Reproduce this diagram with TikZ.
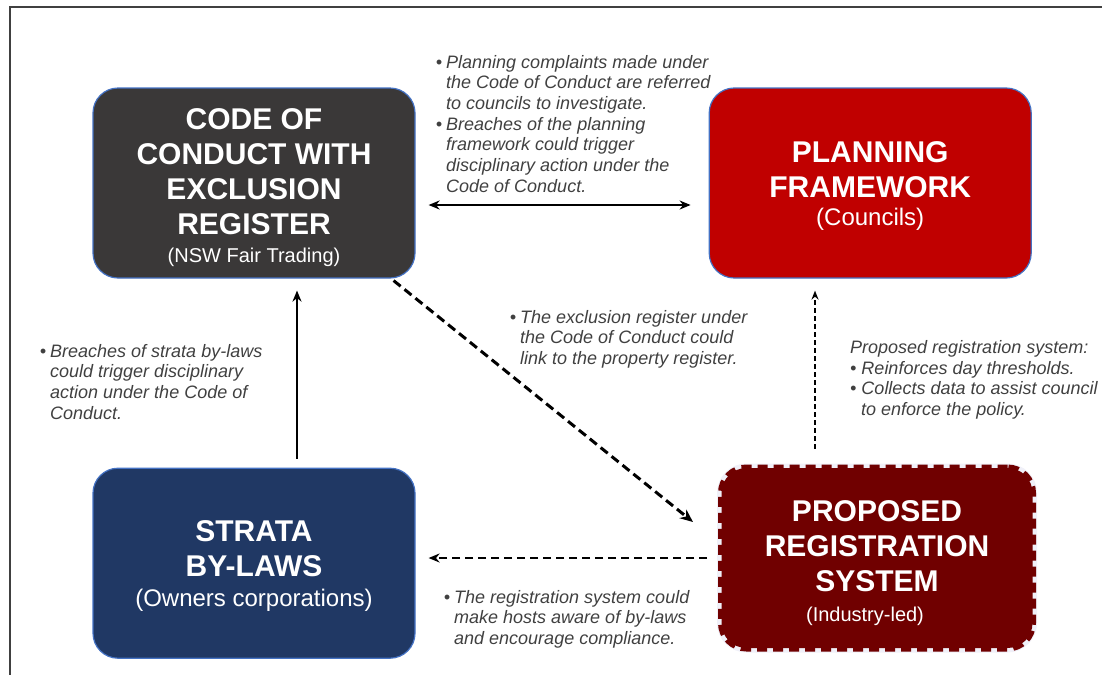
\documentclass[tikz,border=0pt]{standalone}
\usepackage{fontspec}
\setmainfont{Liberation Sans}
\usepackage{xcolor}
\usetikzlibrary{positioning,arrows.meta}
\definecolor{conductgrey}{HTML}{3A3838}
\definecolor{planred}{HTML}{C00000}
\definecolor{stratablue}{HTML}{203864}
\definecolor{regred}{HTML}{700000}
\definecolor{edgeblue}{HTML}{4472C4}
\definecolor{notegrey}{HTML}{404040}
\definecolor{gapwhite}{HTML}{F0F0F8}

\begin{document}
\begin{tikzpicture}[x=1pt, y=-1pt, >={Stealth[length=11pt, width=9pt]}, every node/.style={font=\small}]
\tikzstyle{block}=[rectangle, draw=edgeblue, line width=1.2pt, rounded corners=25pt, text=white, align=center, minimum width=322pt, minimum height=190pt, font=\fontsize{30}{35}\selectfont\bfseries]
\tikzstyle{note}=[anchor=base west, align=left, inner sep=0pt, text=notegrey, font=\fontsize{18}{20.7}\selectfont\itshape]
\newcommand{\subline}[2]{{\fontsize{#1}{#1}\selectfont\mdseries #2}}
\newcommand{\dotitem}{\llap{\textbullet\hspace{4pt}}}
\newcommand{\headroom}{\rule{0pt}{31pt}}
\useasboundingbox (0,0) rectangle (1102,675);
\draw[notegrey, line width=1.5pt] (1102,7) -- (10,7) -- (10,675);
\node[block, fill=conductgrey] (code) at (254,183) {\headroom CODE OF\\CONDUCT WITH\\EXCLUSION\\REGISTER\\[-7pt]\subline{20}{(NSW Fair Trading)}};
\node[block, fill=planred, right=293pt of code] (plan) {\rule{0pt}{27pt}PLANNING\\FRAMEWORK\\[-7pt]\subline{24}{(Councils)}};
\node[block, fill=stratablue, below=189pt of code] (strata) {\rule{0pt}{26pt}STRATA\\BY-LAWS\\[-5pt]\subline{24}{(Owners corporations)}};
\node[block, fill=regred, draw=regred, line width=7pt, dash pattern=on 10pt off 6pt, minimum width=311pt, minimum height=180pt, preaction={draw=gapwhite, line width=9pt, solid}] (prop) at (877,558) {\headroom PROPOSED\\REGISTRATION\\SYSTEM\\[-5pt]\subline{20}{(Industry-led)\hspace*{24pt}}};
\node[note] (refnote) at (446,192.2) {\dotitem Planning complaints made under\\the Code of Conduct are referred\\to councils to investigate.\\\dotitem Breaches of the planning\\framework could trigger\\disciplinary action under the\\Code of Conduct.};
\node[note] (exclnote) at (520,364.4) {\dotitem The exclusion register under\\the Code of Conduct could\\link to the property register.};
\node[note] (datanote) at (850,415.6) {Proposed registration system:\\\textbullet\ Reinforces day thresholds.\\\textbullet\ Collects data to assist council\\\hspace*{11pt}to enforce the policy.};
\node[note] (lawnote) at (50,419.1) {\dotitem Breaches of strata by-laws\\could trigger disciplinary\\action under the Code of\\Conduct.};
\node[note] (hostnote) at (454,644.4) {\dotitem The registration system could\\make hosts aware of by-laws\\and encourage compliance.};
\draw[<->, line width=2pt, shorten <=13pt, shorten >=18pt] ([yshift=-22pt]code.east) -- ([yshift=-22pt]plan.west);
\draw[->, line width=2pt, shorten <=9pt, shorten >=12pt] ([xshift=43pt]strata.north) -- ([xshift=43pt]code.south);
\draw[-{Stealth[length=13pt, width=11pt]}, line width=3pt, dash pattern=on 9pt off 5pt] ([xshift=-22pt, yshift=-2pt]code.south east) -- ([xshift=-25pt, yshift=36pt]prop.west);
\draw[->, line width=2.5pt, dash pattern=on 8pt off 5pt, shorten <=11pt, shorten >=13pt] (prop.west) -- (prop.west -| strata.east);
\draw[-{Stealth[length=9pt, width=7pt]}, line width=1.5pt, dash pattern=on 5pt off 3pt, shorten <=16pt, shorten >=12pt] ([xshift=-62pt]prop.north) -- ([xshift=-62pt]prop.north |- plan.south);
\end{tikzpicture}
\end{document}
